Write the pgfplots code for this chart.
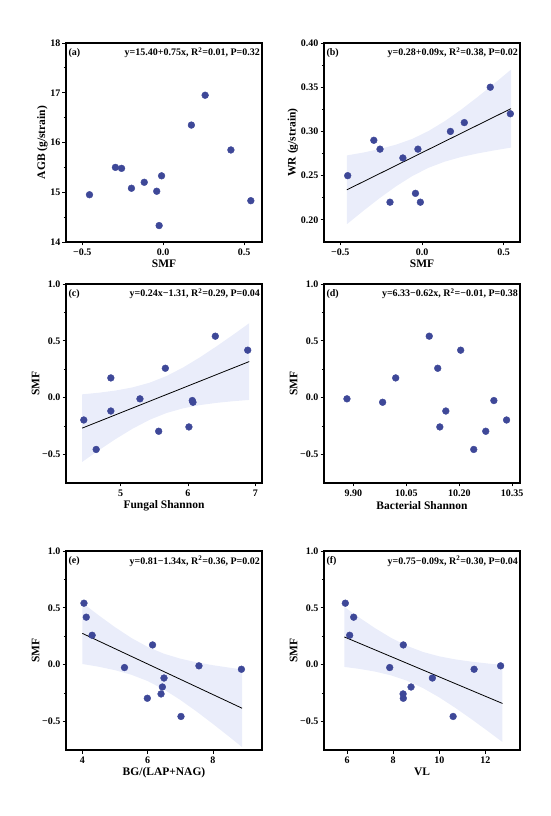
\documentclass[border=0pt]{standalone}
\usepackage{fontspec}
\setmainfont{Liberation Serif}
\usepackage{pgfplots}
\pgfplotsset{compat=1.18}
\definecolor{dotc}{RGB}{62,72,152}
\definecolor{bandc}{RGB}{234,237,250}
\pgfplotsset{
  myax/.style={
    width=196pt, height=199pt, scale only axis, anchor=south west,
    axis line style={line width=1.1pt, black},
    tick style={line width=0.8pt, black},
    tick align=outside, tick pos=left,
    major tick length=3.5pt, minor tick length=2.2pt,
    minor y tick num=1,
    /pgf/number format/assume math mode=true,
    tick label style={font=\bfseries\fontsize{10}{11}\selectfont},
    xticklabel style={inner sep=3.5pt},
    yticklabel style={inner sep=2pt},
    label style={font=\bfseries\fontsize{11.5}{12}\selectfont},
    xlabel style={yshift=3pt},
    ylabel style={yshift=-3pt},
    clip=false,
  },
  dots/.style={only marks, mark=*, mark size=3.4pt, color=dotc, mark options={draw=dotc, fill=dotc}},
  band/.style={fill=bandc, draw=none, forget plot},
  fitline/.style={black, line width=0.8pt, no marks},
}
\newcommand{\ann}[2]{%
  \node[anchor=west, inner sep=0pt, font=\bfseries\fontsize{10}{11}\selectfont] at (rel axis cs:0.012,0.95) {#1};
  \node[anchor=east, inner sep=0pt, font=\bfseries\fontsize{10}{11}\selectfont] at (rel axis cs:0.99,0.95) {#2};}
\begin{document}
\begin{tikzpicture}
\path[use as bounding box] (0,0) rectangle (550pt,816pt);
% (a)
\begin{axis}[myax, at={(66pt,574pt)},
  xmin=-0.6, xmax=0.61, ymin=14, ymax=18,
  xtick={-0.5,0,0.5}, xticklabels={−0.5,0.0,0.5},
  ytick={14,15,16,17,18}, yticklabels={14,15,16,17,18},
  xlabel={SMF}, ylabel={AGB (g/strain)}]
\addplot[dots] coordinates {
(-0.455,14.95) (-0.295,15.50) (-0.257,15.48) (-0.196,15.08) (-0.117,15.20) (-0.04,15.02)
(-0.025,14.33) (-0.01,15.33) (0.174,16.35) (0.259,16.95) (0.418,15.85) (0.541,14.83)};
\ann{(a)}{y=15.40+0.75x, R\textsuperscript{2}=0.01, P=0.32}
\end{axis}
% (b)
\begin{axis}[myax, at={(324pt,574pt)},
  xmin=-0.6, xmax=0.6, ymin=0.175, ymax=0.40,
  xtick={-0.5,0,0.5}, xticklabels={−0.5,0.0,0.5},
  ytick={0.20,0.25,0.30,0.35,0.40}, yticklabels={0.20,0.25,0.30,0.35,0.40},
  xlabel={SMF}, ylabel={WR (g/strain)}]
\addplot[band] coordinates {
(-0.46,0.2729) (-0.36,0.2761) (-0.26,0.2801) (-0.16,0.2850) (-0.06,0.2915) (0.04,0.3005)
(0.14,0.3117) (0.24,0.3247) (0.34,0.3389) (0.44,0.3538) (0.545,0.3699)
(0.545,0.2817) (0.44,0.2785) (0.34,0.2751) (0.24,0.2711) (0.14,0.2659) (0.04,0.2589)
(-0.06,0.2495) (-0.16,0.2378) (-0.26,0.2245) (-0.36,0.2101) (-0.46,0.1951)} -- cycle;
\addplot[fitline] coordinates {(-0.46,0.2340) (0.545,0.3258)};
\addplot[dots] coordinates {
(-0.455,0.25) (-0.295,0.29) (-0.257,0.28) (-0.196,0.22) (-0.117,0.27) (-0.04,0.23)
(-0.025,0.28) (-0.01,0.22) (0.174,0.30) (0.259,0.31) (0.418,0.35) (0.541,0.32)};
\ann{(b)}{y=0.28+0.09x, R\textsuperscript{2}=0.38, P=0.02}
\end{axis}
% (c)
\begin{axis}[myax, at={(66pt,333pt)},
  xmin=4.19, xmax=7.1, ymin=-0.75, ymax=1.0,
  xtick={5,6,7}, xticklabels={5,6,7},
  ytick={-0.5,0,0.5,1}, yticklabels={−0.5,0.0,0.5,1.0},
  xlabel={Fungal Shannon}, ylabel={SMF}]
\addplot[band] coordinates {
(4.43,0.0296) (4.68,0.0440) (4.93,0.0633) (5.18,0.0910) (5.43,0.1317) (5.68,0.1900)
(5.93,0.2662) (6.18,0.3558) (6.43,0.4539) (6.68,0.5573) (6.91,0.6552)
(6.91,-0.0196) (6.68,-0.0303) (6.43,-0.0449) (6.18,-0.0648) (5.93,-0.0932) (5.68,-0.1350)
(5.43,-0.1947) (5.18,-0.2720) (4.93,-0.3623) (4.68,-0.4610) (4.43,-0.5646)} -- cycle;
\addplot[fitline] coordinates {(4.43,-0.2675) (6.91,0.3178)};
\addplot[dots] coordinates {
(4.454,-0.196) (4.638,-0.455) (4.856,0.174) (4.856,-0.117) (5.288,-0.01) (5.566,-0.295)
(5.665,0.259) (6.015,-0.257) (6.065,-0.025) (6.075,-0.04) (6.407,0.541) (6.888,0.418)};
\ann{(c)}{y=0.24x−1.31, R\textsuperscript{2}=0.29, P=0.04}
\end{axis}
% (d)
\begin{axis}[myax, at={(324pt,333pt)},
  xmin=9.817, xmax=10.372, ymin=-0.75, ymax=1.0,
  xtick={9.90,10.05,10.20,10.35}, xticklabels={9.90,10.05,10.20,10.35},
  ytick={-0.5,0,0.5,1}, yticklabels={−0.5,0.0,0.5,1.0},
  xlabel={Bacterial Shannon}, ylabel={SMF}]
\addplot[dots] coordinates {
(9.882,-0.01) (9.983,-0.04) (10.020,0.174) (10.115,0.541) (10.139,0.259) (10.162,-0.117)
(10.145,-0.257) (10.204,0.418) (10.241,-0.455) (10.275,-0.295) (10.298,-0.025) (10.334,-0.196)};
\ann{(d)}{y=6.33−0.62x, R\textsuperscript{2}=−0.01, P=0.38}
\end{axis}
% (e)
\begin{axis}[myax, at={(66pt,66pt)},
  xmin=3.5, xmax=9.5, ymin=-0.75, ymax=1.0,
  xtick={4,6,8}, xticklabels={4,6,8},
  ytick={-0.5,0,0.5,1}, yticklabels={−0.5,0.0,0.5,1.0},
  xlabel={BG/(LAP+NAG)}, ylabel={SMF}]
\addplot[band] coordinates {
(4.0,0.5447) (4.5,0.4344) (5.0,0.3301) (5.5,0.2356) (6.0,0.1566) (6.5,0.0966)
(7.0,0.0533) (7.5,0.0211) (8.0,-0.0044) (8.5,-0.0259) (8.89,-0.0410)
(8.89,-0.7242) (8.5,-0.6343) (8.0,-0.5212) (7.5,-0.4121) (7.0,-0.3097) (6.5,-0.2184)
(6.0,-0.1438) (5.5,-0.0882) (5.0,-0.0481) (4.5,-0.0178) (4.0,0.0065)} -- cycle;
\addplot[fitline] coordinates {(4.0,0.2756) (8.89,-0.3826)};
\addplot[dots] coordinates {
(4.05,0.541) (4.12,0.418) (4.30,0.259) (5.29,-0.025) (6.15,0.174) (5.99,-0.295)
(6.41,-0.257) (6.45,-0.196) (6.50,-0.117) (7.02,-0.455) (7.57,-0.01) (8.87,-0.04)};
\ann{(e)}{y=0.81−1.34x, R\textsuperscript{2}=0.36, P=0.02}
\end{axis}
% (f)
\begin{axis}[myax, at={(324pt,66pt)},
  xmin=5, xmax=13.5, ymin=-0.75, ymax=1.0,
  xtick={6,8,10,12}, xticklabels={6,8,10,12},
  ytick={-0.5,0,0.5,1}, yticklabels={−0.5,0.0,0.5,1.0},
  xlabel={VL}, ylabel={SMF}]
\addplot[band] coordinates {
(5.88,0.5082) (6.5,0.4189) (7.2,0.3234) (7.9,0.2373) (8.6,0.1657) (9.3,0.1117)
(10.0,0.0736) (10.7,0.0467) (11.4,0.0267) (12.1,0.0109) (12.74,-0.0015)
(12.74,-0.6799) (12.1,-0.5831) (11.4,-0.4795) (10.7,-0.3801) (10.0,-0.2876) (9.3,-0.2063)
(8.6,-0.1409) (7.9,-0.0931) (7.2,-0.0598) (6.5,-0.0357) (5.88,-0.0194)} -- cycle;
\addplot[fitline] coordinates {(5.88,0.2444) (12.74,-0.3407)};
\addplot[dots] coordinates {
(5.925,0.541) (6.287,0.418) (6.113,0.259) (8.44,0.174) (7.85,-0.025) (8.43,-0.257)
(8.44,-0.295) (8.775,-0.196) (9.70,-0.117) (10.60,-0.455) (11.51,-0.04) (12.66,-0.01)};
\ann{(f)}{y=0.75−0.09x, R\textsuperscript{2}=0.30, P=0.04}
\end{axis}
\end{tikzpicture}
\end{document}
